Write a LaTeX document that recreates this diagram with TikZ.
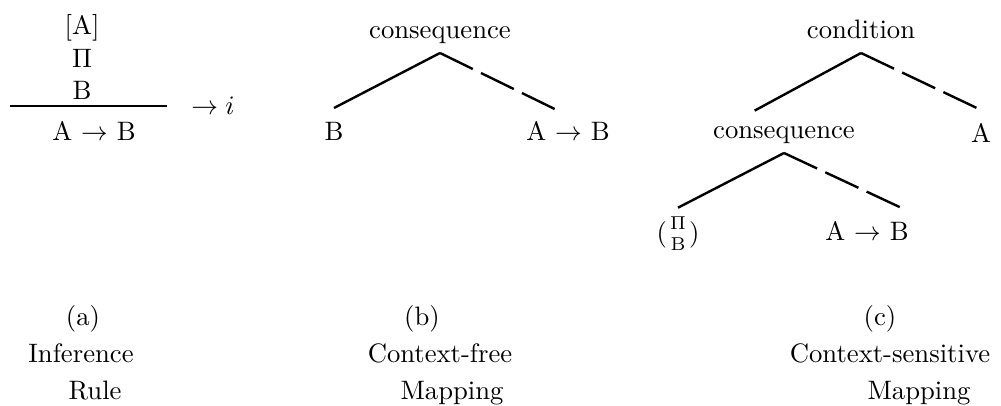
\documentclass[tikz,border=0pt]{standalone}
\usepackage{amsmath}
\usepackage{amssymb}
\usepackage{tikz}
\usepackage{xcolor}
\tikzset{
    proof-line/.style = {anchor=base, inner sep=0pt},
    tree-label/.style = {anchor=south, inner sep=3.3pt, text height=6.9pt, text depth=2pt},
    leaf-label/.style = {anchor=north, inner xsep=2pt, inner ysep=4.9pt, text height=6.9pt, text depth=0pt},
    branch/.style = {line width=0.9pt},
    dashed-branch/.style = {branch, dash pattern=on 13.7pt off 3.4pt},
    caption-text/.style = {anchor=base, inner sep=0pt},
}

\begin{document}
\begin{tikzpicture}[x=0.375pt, y=-0.375pt]
\useasboundingbox (0,0) rectangle (1001,406);

% (a) the rule
\node[proof-line] (hyp) at (82,35) {[A]};
\node[proof-line] (deriv) at (82,68) {$\Pi$};
\node[proof-line] (prem) at (82,100) {B};
\draw[branch] (10,106) -- (167,106);
\node[proof-line] (concl) at (94,140) {A $\rightarrow$ B};
\node[proof-line] (rname) at (213,115) {$\rightarrow i$};

% (b) context-free tree
\node[tree-label] (bcons) at (440,53) {consequence};
\node[leaf-label] (bB) at (334,108) {B};
\node[leaf-label] (bAB) at (568,109) {A $\rightarrow$ B};
\draw[branch] (bcons.south) -- (bB.north);
\draw[dashed-branch] (bcons.south) -- ([xshift=-5pt]bAB.north);

% (c) context-sensitive tree
\node[tree-label] (ccond) at (861,53) {condition};
\node[tree-label] (ccons) at (784,153) {consequence};
\node[leaf-label] (cA) at (981,110) {A};
\node (cpib) at (678,234) {$(\genfrac{}{}{0pt}{1}{\Pi}{\mathrm{B}})$};
\node[leaf-label] (cAB) at (867,208) {A $\rightarrow$ B};
\draw[branch] (ccond.south) -- ([xshift=-11pt]ccons.north);
\draw[dashed-branch] (ccond.south) -- (cA.north);
\draw[branch] (ccons.south) -- (cpib.north);
\draw[dashed-branch] (ccons.south) -- ([xshift=13pt]cAB.north);

% captions
\node[caption-text] (capa1) at (83,325) {(a)};
\node[caption-text] (capa2) at (81,362) {Inference};
\node[caption-text] (capa3) at (95,399) {Rule};
\node[caption-text] (capb1) at (422,325) {(b)};
\node[caption-text] (capb2) at (440,362) {Context-free};
\node[caption-text] (capb3) at (452,399) {Mapping};
\node[caption-text] (capc1) at (880,325) {(c)};
\node[caption-text] (capc2) at (890,362) {Context-sensitive};
\node[caption-text] (capc3) at (919,399) {Mapping};
\end{tikzpicture}
\end{document}
